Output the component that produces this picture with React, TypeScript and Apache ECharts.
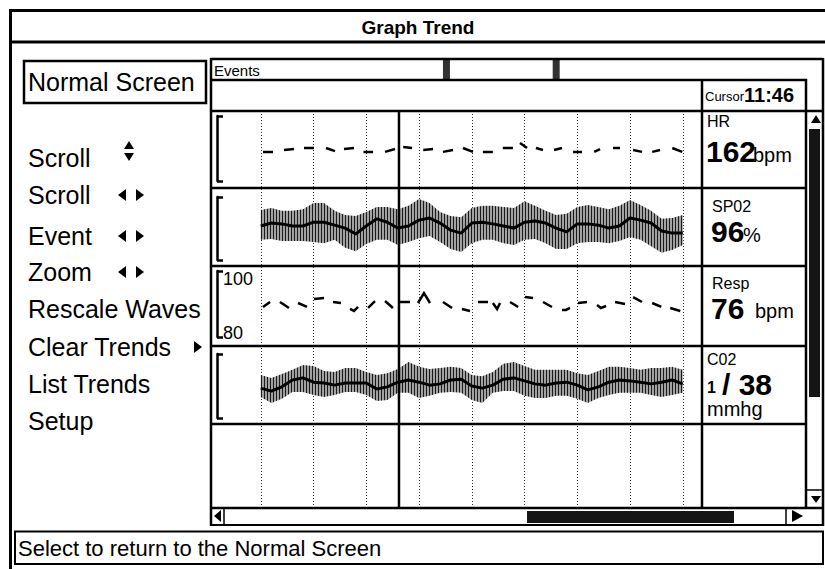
import React, { useEffect, useRef } from 'react';
import * as echarts from 'echarts';

const FONT = '"Liberation Sans", Arial, Helvetica, sans-serif';

// Time axis: sample index (one trend sample per column), dotted gridline every 5 samples
const X_MIN = -5;
const X_MAX = 41.82;
const X_STEP = 5;
const SAMPLE_COUNT = 41;
const cursorTime = 13.1;
const cursorLabel = '11:46';
const eventTimes = [17.6, 28.0];

// HR trend (bpm): dashes [tStart, tEnd, valueStart, valueEnd]
const hrDashes = [
  [0.21, 1.16, 161.2, 161.2], [2.2, 3.15, 161.9, 162.3], [4.1, 5.05, 162.7, 162.7],
  [6.18, 7.04, 162.7, 161.5], [7.89, 8.84, 162.3, 162.7], [9.74, 10.64, 161.2, 161.2],
  [11.78, 12.72, 161.2, 162.3], [13.5, 14.34, 163.1, 162.7], [15.4, 16.33, 161.9, 162.3],
  [17.27, 18.22, 161.2, 161.9], [19.16, 20.11, 162.7, 161.2], [21.06, 22.0, 161.2, 161.2],
  [22.94, 23.9, 162.7, 162.7], [24.57, 25.24, 164.6, 162.7], [26.08, 26.75, 162.7, 161.9],
  [27.8, 28.55, 161.9, 162.7], [29.6, 30.45, 161.2, 161.2], [31.6, 32.16, 161.2, 162.3],
  [33.39, 34.05, 162.7, 162.7], [35.29, 36.14, 161.9, 161.2], [37.1, 37.84, 161.2, 161.9],
  [39.0, 39.95, 162.7, 161.2],
];

// Resp trend: dashes as [t, value] points
const respDashes = [
  [[0.21, 89.1], [0.88, 90.6]],
  [[1.82, 90.6], [2.68, 88.8]],
  [[3.53, 90.3], [4.38, 89.1]],
  [[5.05, 91.5], [6.0, 91.8]],
  [[6.85, 90.6], [7.6, 90.3]],
  [[8.46, 88.5], [8.84, 87.9], [9.22, 89.1]],
  [[10.17, 88.8], [10.83, 90.9]],
  [[11.78, 90.9], [12.53, 88.8]],
  [[13.2, 90.6], [14.14, 90.6]],
  [[14.9, 90.3], [15.47, 93.3], [16.04, 90.3]],
  [[17.27, 90.6], [18.13, 88.8]],
  [[19.07, 88.5], [19.83, 87.9]],
  [[20.59, 90.6], [21.54, 90.6]],
  [[22.0, 90.3], [22.4, 88.5], [22.68, 90.3]],
  [[23.63, 90.6], [24.39, 89.1]],
  [[25.05, 92.1], [25.8, 91.8]],
  [[26.75, 90.6], [27.6, 89.1]],
  [[28.55, 88.2], [28.93, 88.2], [29.31, 88.8]],
  [[30.07, 90.3], [30.92, 90.6]],
  [[31.87, 89.7], [32.24, 88.8], [32.73, 89.4]],
  [[33.58, 90.6], [34.53, 90.0]],
  [[35.29, 92.1], [36.14, 90.6]],
  [[37.1, 90.3], [37.96, 89.1]],
  [[38.81, 88.8], [39.76, 87.9]],
];

// SpO2 trend (%): per-sample max, min and mean
const spo2Max = [101.9, 102.4, 101.7, 101.7, 102.1, 103.6, 103.6, 101.7, 100.7, 100.5, 101.4, 102.6, 102.6, 102.1, 102.9, 104.5, 103.6, 101.4, 100.5, 100.2, 102.4, 102.9, 102.9, 102.6, 102.4, 104.0, 102.9, 101.7, 100.7, 101.0, 102.6, 103.1, 102.6, 102.1, 102.9, 104.3, 103.1, 101.7, 99.8, 100.0, 100.7];
const spo2Min = [94.8, 95.0, 94.5, 94.5, 94.5, 94.3, 94.0, 94.8, 92.9, 92.1, 93.8, 94.8, 94.8, 93.6, 94.3, 95.2, 95.7, 94.3, 92.6, 91.9, 94.0, 94.8, 94.8, 94.0, 93.6, 94.8, 95.0, 94.0, 92.6, 92.6, 94.0, 94.3, 94.3, 94.0, 94.5, 95.5, 94.8, 93.3, 91.7, 92.4, 93.6];
const spo2Mean = [98.1, 98.8, 98.6, 98.1, 98.1, 99.0, 99.0, 98.3, 97.6, 96.2, 98.1, 99.8, 99.0, 97.6, 98.1, 99.5, 100.0, 98.8, 97.1, 96.4, 98.8, 99.0, 98.6, 98.1, 97.6, 99.0, 99.3, 98.8, 97.6, 96.7, 98.6, 98.6, 98.3, 97.6, 98.1, 100.0, 99.5, 98.8, 96.9, 96.4, 96.4];

// CO2 trend (mmHg): per-sample max, min and mean
const co2Max = [40.1, 39.4, 40.3, 41.3, 42.4, 42.2, 41.0, 40.8, 41.7, 41.7, 40.8, 40.1, 40.5, 41.5, 43.1, 42.0, 41.5, 41.7, 42.0, 41.7, 40.1, 39.8, 40.8, 42.7, 43.1, 42.2, 41.3, 41.3, 41.3, 41.3, 40.5, 40.1, 41.0, 42.0, 42.0, 41.7, 41.3, 41.7, 41.7, 42.0, 41.3];
const co2Min = [34.9, 33.5, 34.5, 36.1, 36.1, 35.4, 34.9, 35.4, 36.1, 36.1, 35.4, 34.0, 34.2, 35.9, 35.9, 34.7, 35.2, 35.9, 36.1, 35.9, 34.2, 33.5, 35.9, 36.3, 36.3, 35.2, 34.7, 34.7, 35.2, 35.2, 34.5, 33.5, 34.7, 35.4, 35.9, 35.9, 35.9, 35.4, 34.9, 35.4, 35.9];
const co2Mean = [37.0, 36.3, 37.3, 38.9, 39.4, 38.4, 38.2, 37.7, 38.2, 38.2, 38.2, 36.8, 37.3, 38.4, 38.9, 38.4, 37.7, 38.0, 38.9, 39.1, 37.5, 37.0, 37.7, 39.1, 39.4, 38.7, 38.0, 37.7, 38.2, 38.4, 37.7, 36.6, 37.3, 38.4, 38.9, 38.7, 38.4, 38.0, 38.4, 38.9, 38.0];

// Axis ranges per trend row [min, max]
const hrRange = [150, 175];
const spo2Range = [90, 105];
const respRange = [80, 100];
const co2Range = [30, 45];

// Cursor readouts
const hrValue = '162';
const spo2Value = '96';
const respValue = '76';
const co2Values = ['1', '38'];

const menuItems = ['Scroll', 'Scroll', 'Event', 'Zoom', 'Rescale Waves', 'Clear Trends', 'List Trends', 'Setup'];
const menuArrows = ['updown', 'leftright', 'leftright', 'leftright', '', 'right', '', ''];

export default function App() {
  const ref = useRef<HTMLDivElement>(null);
  useEffect(() => {
    const el = ref.current as HTMLDivElement;
    const chart = echarts.init(el, null, { renderer: 'svg' });

    const cv = document.createElement('canvas');
    cv.width = 3;
    cv.height = 4;
    const g = cv.getContext('2d') as CanvasRenderingContext2D;
    g.fillStyle = '#a2a2a2';
    g.fillRect(0, 0, 3, 4);
    g.fillStyle = '#1a1a1a';
    g.fillRect(0, 0, 1, 4);
    const hatch: any = { image: cv.toDataURL(), repeat: 'repeat', imageWidth: 3, imageHeight: 4 };

    const samples = Array.from({ length: SAMPLE_COUNT }, (_, i) => String(i));

    const line = (x1: number, y1: number, x2: number, y2: number, w = 2.5) => ({
      type: 'line', silent: true, z: 10,
      shape: { x1, y1, x2, y2 },
      style: { stroke: '#000', lineWidth: w },
    });
    const rect = (x: number, y: number, width: number, height: number, fill: string, stroke?: string, lw = 0) => ({
      type: 'rect', silent: true, z: 10,
      shape: { x, y, width, height },
      style: { fill, stroke: stroke || 'none', lineWidth: lw },
    });
    const poly = (points: number[][]) => ({
      type: 'polygon', silent: true, z: 10,
      shape: { points },
      style: { fill: '#000' },
    });
    const text = (t: string, x: number, y: number, size: number, bold = false, align = 'left') => ({
      type: 'text', silent: true, z: 11, x, y,
      style: {
        text: t, fontSize: size, fontFamily: FONT, fontWeight: bold ? 'bold' : 'normal',
        fill: '#000', align, verticalAlign: 'middle',
      },
    });

    const graphics: any[] = [];
    // outer frame + title
    graphics.push(line(9, 10.5, 825, 10.5, 3));
    graphics.push(line(10.5, 9, 10.5, 569, 3));
    graphics.push(line(10, 42, 825, 42, 3));
    graphics.push(text('Graph Trend', 418, 27, 19, true, 'center'));
    // Normal Screen button
    graphics.push(rect(24, 61, 182, 42, 'none', '#000', 2.5));
    graphics.push(text('Normal Screen', 28, 82, 25));
    // menu
    const menuY = [158, 195, 236, 272, 309, 347, 384, 421];
    menuItems.forEach((m, i) => {
      const y = menuY[i];
      graphics.push(text(m, 28, y, 25));
      const a = menuArrows[i];
      if (a === 'updown') {
        graphics.push(poly([[124, y - 9], [134, y - 9], [129, y - 17]]));
        graphics.push(poly([[124, y - 5], [134, y - 5], [129, y + 3]]));
      } else if (a === 'leftright') {
        graphics.push(poly([[126, y - 6], [126, y + 6], [118, y]]));
        graphics.push(poly([[136, y - 6], [136, y + 6], [144, y]]));
      } else if (a === 'right') {
        graphics.push(poly([[194, y - 6], [194, y + 6], [202, y]]));
      }
    });
    // main panel frame
    graphics.push(line(210, 59, 823, 59, 2.5));
    graphics.push(line(211, 58, 211, 526, 2.5));
    graphics.push(line(823, 58, 823, 526, 2.5));
    graphics.push(text('Events', 214, 70, 15));
    graphics.push(line(210, 80, 807, 80, 2.5));
    // cursor box and value panel
    graphics.push(line(702, 79, 702, 508, 2.5));
    graphics.push(line(806, 79, 806, 508, 2.5));
    graphics.push(text('Cursor', 705, 96, 13));
    graphics.push(text(cursorLabel, 744, 95, 20, true));
    // row separators
    [111, 188, 266, 346, 424].forEach((y, i) => {
      graphics.push(line(210, y, i === 0 ? 823 : 806, y, 2.5));
    });
    graphics.push(line(210, 508, 823, 508, 2.5));
    graphics.push(line(210, 525, 823, 525, 2));
    // value readouts
    graphics.push(text('HR', 707, 121, 16));
    graphics.push(text(hrValue, 706, 151, 30, true));
    graphics.push(text('bpm', 753, 155, 20));
    graphics.push(text('SP02', 712, 206, 16));
    graphics.push(text(spo2Value, 711, 231, 30, true));
    graphics.push(text('%', 743, 235, 20));
    graphics.push(text('Resp', 712, 283, 16));
    graphics.push(text(respValue, 711, 308, 30, true));
    graphics.push(text('bpm', 755, 311, 20));
    graphics.push(text('C02', 707, 359, 16));
    graphics.push(text(co2Values[0], 707, 387, 16, true));
    graphics.push(text('/ ' + co2Values[1], 722, 384, 30, true));
    graphics.push(text('mmhg', 707, 409, 20));
    // vertical scrollbar
    graphics.push(poly([[811, 123], [821, 123], [816, 115]]));
    graphics.push(rect(809, 129, 11, 268, '#151515'));
    graphics.push(line(806, 490, 823, 490, 1.5));
    graphics.push(poly([[811, 496], [821, 496], [816, 503]]));
    // horizontal scrollbar
    graphics.push(poly([[221, 510], [221, 522], [214, 516]]));
    graphics.push(line(224, 508, 224, 525, 1.5));
    graphics.push(rect(527, 511, 207, 12, '#151515'));
    graphics.push(line(786, 508, 786, 525, 1.5));
    graphics.push(poly([[792, 510], [792, 522], [803, 516]]));
    // status bar
    graphics.push(rect(15, 531.5, 808, 32.5, 'none', '#000', 2));
    graphics.push(text('Select to return to the Normal Screen', 18, 548, 22));

    const bracketAxis = (gridIndex: number, range: number[], offset: number, labels = false) => ({
      type: 'value', gridIndex, min: range[0], max: range[1], interval: range[1] - range[0],
      offset,
      axisLine: { show: true, onZero: false, lineStyle: { color: '#000', width: 2.5 } },
      axisTick: { show: true, inside: true, length: 6, lineStyle: { color: '#000', width: 2.5 } },
      splitLine: { show: false },
      axisLabel: labels
        ? {
            show: true, inside: true, margin: 6, color: '#000', fontSize: 18, fontFamily: FONT,
            formatter: (v: number) => (v === range[1] ? `{t|${v}}` : `{b|${v}}`),
            rich: {
              t: { fontSize: 18, fontFamily: FONT, color: '#000', padding: [16, 0, 0, 0] },
              b: { fontSize: 18, fontFamily: FONT, color: '#000', padding: [0, 0, 8, 0] },
            },
          }
        : { show: false },
    });

    const hiddenValueX = (gridIndex: number) => ({ type: 'value', gridIndex, min: X_MIN, max: X_MAX, show: false });
    const hiddenCatX = (gridIndex: number) => ({ type: 'category', gridIndex, data: samples, boundaryGap: false, show: false });

    const band = (name: string, idx: number, mins: number[], maxs: number[], means: number[]) => [
      {
        name: name + '-min', type: 'line', xAxisIndex: idx, yAxisIndex: idx, stack: name,
        data: mins, symbol: 'none', lineStyle: { opacity: 0 }, silent: true,
      },
      {
        name: name + '-range', type: 'line', xAxisIndex: idx, yAxisIndex: idx, stack: name,
        data: maxs.map((v, i) => +(v - mins[i]).toFixed(2)), symbol: 'none',
        lineStyle: { opacity: 0 }, areaStyle: { color: hatch, opacity: 1 }, silent: true,
      },
      {
        name: name + '-mean', type: 'line', xAxisIndex: idx, yAxisIndex: idx,
        data: means, symbol: 'none', lineStyle: { color: '#000', width: 3 }, silent: true, z: 3,
      },
    ];

    const option: any = {
      animation: false,
      backgroundColor: '#fff',
      graphic: graphics,
      grid: [
        { left: 208, top: 60, width: 494, height: 19 },
        { left: 208, top: 111, width: 494, height: 396 },
        { left: 208, top: 116, width: 494, height: 65 },
        { left: 260.75, top: 197, width: 422, height: 63 },
        { left: 208, top: 271, width: 494, height: 66 },
        { left: 260.75, top: 354, width: 422, height: 64 },
      ],
      xAxis: [
        hiddenValueX(0),
        {
          type: 'value', gridIndex: 1, min: X_MIN, max: X_MAX, interval: X_STEP,
          axisLine: { show: false }, axisTick: { show: false }, axisLabel: { show: false },
          splitLine: { show: true, showMinLine: false, showMaxLine: false, lineStyle: { color: '#333', width: 1, type: [1, 2] } },
        },
        hiddenValueX(2),
        hiddenCatX(3),
        hiddenValueX(4),
        hiddenCatX(5),
      ],
      yAxis: [
        { type: 'value', gridIndex: 0, min: 0, max: 1, show: false },
        { type: 'value', gridIndex: 1, min: 0, max: 1, show: false },
        bracketAxis(2, hrRange, -9),
        bracketAxis(3, spo2Range, 43.75),
        bracketAxis(4, respRange, -9, true),
        bracketAxis(5, co2Range, 43.75),
      ],
      series: [
        {
          name: 'events', type: 'scatter', xAxisIndex: 0, yAxisIndex: 0,
          data: eventTimes.map((t) => [t, 0.5]), symbol: 'rect', symbolSize: [7, 19],
          itemStyle: { color: '#000' }, silent: true,
        },
        {
          name: 'cursor', type: 'line', xAxisIndex: 1, yAxisIndex: 1,
          data: [[cursorTime, 0], [cursorTime, 1]], symbol: 'none',
          lineStyle: { color: '#000', width: 2.5 }, silent: true, z: 4,
        },
        {
          name: 'HR', type: 'lines', coordinateSystem: 'cartesian2d', xAxisIndex: 2, yAxisIndex: 2,
          polyline: true, silent: true,
          data: hrDashes.map((d) => ({ coords: [[d[0], d[2]], [d[1], d[3]]] })),
          lineStyle: { color: '#000', width: 2.5, opacity: 1 },
        },
        ...band('SpO2', 3, spo2Min, spo2Max, spo2Mean),
        {
          name: 'Resp', type: 'lines', coordinateSystem: 'cartesian2d', xAxisIndex: 4, yAxisIndex: 4,
          polyline: true, silent: true,
          data: respDashes.map((d) => ({ coords: d })),
          lineStyle: { color: '#000', width: 2.5, opacity: 1 },
        },
        ...band('CO2', 5, co2Min, co2Max, co2Mean),
      ],
    };
    chart.setOption(option);
    return () => chart.dispose();
  }, []);
  return (
    <div
      ref={ref}
      style={{ position: 'fixed', left: 0, top: 0, width: 825, height: 569, background: '#fff' }}
    />
  );
}
